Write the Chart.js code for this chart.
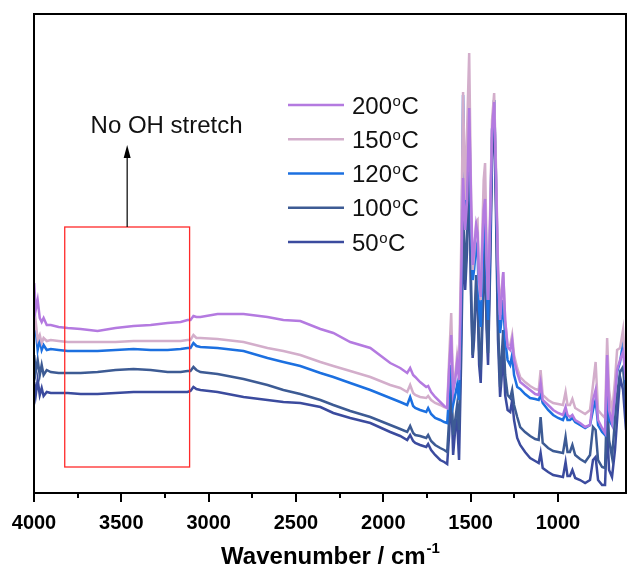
<!DOCTYPE html>
<html><head><meta charset="utf-8">
<script src="https://cdn.jsdelivr.net/npm/chart.js@4/dist/chart.umd.min.js"></script>
<style>html,body{margin:0;padding:0;background:#fff}</style>
</head><body>
<canvas id="c" width="627" height="573"></canvas>
<script>
// wavenumber (cm-1)
const wavenumbers = [3999,3990,3979,3967,3956,3945,3927,3904,3859,3807,3733,3636,3533,3430,3332,3235,3160,3121,3104,3087,3070,3047,2949,2800,2663,2572,2475,2360,2286,2189,2074,1960,1903,1863,1846,1829,1817,1789,1754,1743,1726,1703,1674,1651,1634,1623,1611,1600,1588,1577,1566,1554,1543,1531,1520,1508,1497,1488,1480,1468,1460,1451,1442,1434,1425,1417,1408,1400,1388,1377,1365,1354,1343,1331,1323,1313,1302,1288,1273,1262,1251,1233,1216,1188,1159,1130,1110,1099,1087,1056,1027,999,971,956,945,931,917,901,873,844,816,799,784,770,747,730,718,707,690,673,661,644,627,610];
// intensity (a.u.)
const s200 = [210,183,193,175,171,175,168,168,166,165,164,162,165,167,168,170,171,173,173,177,176,176,179,179,176,173,172,164,160,151,145,130,125,120,125,118,116,111,106,107,101,96,91,87,85,123,158,101,113,131,113,213,315,263,293,385,293,228,243,268,260,213,196,243,283,294,233,193,273,363,391,313,223,173,193,221,173,146,143,153,133,120,111,107,103,99,98,110,93,88,83,80,78,86,78,76,78,73,70,66,68,93,103,73,65,60,138,83,70,98,123,133,141,113];
const s150 = [163,171,153,158,150,155,152,153,152,151,151,151,151,152,152,152,152,153,153,158,155,155,154,151,145,142,138,131,127,122,116,108,105,101,108,100,98,96,95,97,93,90,88,86,85,133,180,103,118,138,123,243,401,293,363,440,293,223,238,271,273,208,193,253,313,330,243,193,283,373,400,323,228,178,203,221,173,148,148,158,138,125,116,111,107,104,103,123,98,93,90,89,88,101,88,88,94,85,82,79,83,108,131,83,78,75,155,103,80,113,143,145,163,113];
const s120 = [158,163,143,153,143,148,143,144,143,142,142,142,143,144,143,143,144,145,145,150,147,146,145,142,135,131,127,120,116,110,103,95,91,88,96,87,85,83,81,85,79,75,73,71,70,98,128,88,98,108,93,193,398,263,313,383,263,213,223,248,243,183,166,213,263,283,213,173,263,363,393,313,208,160,173,193,153,133,128,138,118,106,104,99,95,94,93,98,90,83,78,75,73,80,73,73,75,71,68,65,68,83,93,68,61,58,106,73,68,103,121,131,150,108];
const s100 = [138,121,133,118,128,118,123,121,120,120,120,121,123,124,123,121,121,122,122,126,123,121,119,114,108,103,99,93,88,82,76,68,64,61,67,60,58,57,55,58,52,48,45,43,41,73,113,58,73,88,63,163,283,213,263,343,203,138,163,218,203,143,123,173,233,253,173,140,243,353,393,293,173,106,133,163,118,98,95,103,88,76,66,61,57,54,53,76,50,45,42,41,40,56,41,41,48,38,34,31,38,66,63,33,26,25,95,53,36,73,98,121,126,88];
const s50 = [111,98,113,98,105,97,101,100,100,100,99,99,100,101,101,101,101,101,102,106,104,103,101,96,93,91,90,86,80,75,70,61,57,53,58,52,50,48,46,49,43,38,33,31,29,58,103,38,63,73,33,133,253,203,243,323,193,135,153,203,193,128,110,158,213,233,163,128,223,333,383,273,153,96,113,143,98,83,81,93,73,55,48,41,35,32,30,40,25,21,18,17,16,31,17,17,23,15,13,10,13,33,36,13,8,8,66,23,16,43,73,116,103,63];
const seriesLabels = ['200', '150', '120', '100', '50'];
const seriesColors = ['#b47ae0', '#d3aecb', '#1c70e0', '#3d5b94', '#3b4b9e'];
const xMin = 610, xMax = 4000, yMin = 0, yMax = 479;
const xMinorStep = 250, xMajorStep = 500;
const xTitle = 'Wavenumber / cm';
const xTitleSup = '-1';
const boxWn = [3824, 3109], boxI = [266, 26];
const arrowTipI = 348;
const noteText = 'No OH stretch', noteWn = 3676, noteI = 360;

const allSeries = [s200, s150, s120, s100, s50];
const FONT = '"Liberation Sans", Arial, Helvetica, sans-serif';

const deco = {
  id: 'deco',
  afterDraw(chart) {
    const {ctx, chartArea: a, scales: {x, y}} = chart;
    ctx.save();
    // red box
    const bx1 = x.getPixelForValue(boxWn[0]), bx2 = x.getPixelForValue(boxWn[1]);
    const by1 = y.getPixelForValue(boxI[0]), by2 = y.getPixelForValue(boxI[1]);
    ctx.strokeStyle = '#ff2a2a'; ctx.lineWidth = 1.3;
    ctx.strokeRect(bx1, by1, bx2 - bx1, by2 - by1);
    // arrow
    const ax = (bx1 + bx2) / 2, tip = y.getPixelForValue(arrowTipI);
    ctx.strokeStyle = '#000'; ctx.fillStyle = '#000'; ctx.lineWidth = 1.2;
    ctx.beginPath(); ctx.moveTo(ax, by1); ctx.lineTo(ax, tip + 8); ctx.stroke();
    ctx.beginPath(); ctx.moveTo(ax, tip); ctx.lineTo(ax - 3.5, tip + 13); ctx.lineTo(ax + 3.5, tip + 13); ctx.closePath(); ctx.fill();
    // note
    ctx.font = '24px ' + FONT; ctx.fillStyle = '#111'; ctx.textBaseline = 'alphabetic'; ctx.textAlign = 'left';
    ctx.fillText(noteText, x.getPixelForValue(noteWn), y.getPixelForValue(noteI));
    // frame
    ctx.strokeStyle = '#000'; ctx.lineWidth = 2;
    ctx.strokeRect(a.left, a.top, a.right - a.left, a.bottom - a.top);
    // ticks
    ctx.lineWidth = 2;
    x.ticks.forEach(t => {
      if (t.value % xMinorStep !== 0) return;
      const px = Math.round(x.getPixelForValue(t.value));
      const len = t.value % xMajorStep === 0 ? 9 : 5;
      ctx.beginPath(); ctx.moveTo(px, a.bottom); ctx.lineTo(px, a.bottom + len); ctx.stroke();
    });
    // legend
    chart.data.datasets.forEach((ds, i) => {
      const ly = 105 + 34.25 * i;
      ctx.strokeStyle = ds.borderColor; ctx.lineWidth = 2.5;
      ctx.beginPath(); ctx.moveTo(288, ly); ctx.lineTo(344, ly); ctx.stroke();
      ctx.fillStyle = '#111'; ctx.textBaseline = 'alphabetic';
      let tx = 352; const base = ly + 8.5;
      ctx.font = '24px ' + FONT; ctx.fillText(ds.label, tx, base); tx += ctx.measureText(ds.label).width + 0.5;
      ctx.font = '15px ' + FONT; ctx.fillText('o', tx, base - 8); tx += ctx.measureText('o').width + 0.5;
      ctx.font = '24px ' + FONT; ctx.fillText('C', tx, base);
    });
    // axis title
    ctx.fillStyle = '#000';
    ctx.font = 'bold 24px ' + FONT;
    const w1 = ctx.measureText(xTitle).width;
    ctx.font = 'bold 15px ' + FONT;
    const w2 = ctx.measureText(xTitleSup).width;
    const cx = (a.left + a.right) / 2;
    let sx = cx - (w1 + w2) / 2;
    ctx.font = 'bold 24px ' + FONT; ctx.fillText(xTitle, sx, 564);
    ctx.font = 'bold 15px ' + FONT; ctx.fillText(xTitleSup, sx + w1 + 1, 553);
    ctx.restore();
  }
};

new Chart(document.getElementById('c'), {
  type: 'line',
  data: {
    datasets: allSeries.map((s, i) => ({
      label: seriesLabels[i],
      data: wavenumbers.map((w, j) => ({x: w, y: s[j]})),
      borderColor: seriesColors[i],
      borderWidth: 2.5,
      pointRadius: 0,
      tension: 0,
      fill: false
    }))
  },
  options: {
    responsive: false,
    devicePixelRatio: 1,
    animation: false,
    layout: {padding: {left: 34, right: 1, top: 14, bottom: 38}},
    plugins: {legend: {display: false}, tooltip: {enabled: false}},
    scales: {
      x: {
        type: 'linear', reverse: true, min: xMin, max: xMax,
        grid: {display: false},
        border: {display: false},
        afterFit: s => { s.paddingLeft = 0; s.paddingRight = 0; s.paddingTop = 0; s.paddingBottom = 0; s.height = 42; },
        ticks: {
          stepSize: xMinorStep, autoSkip: false, maxRotation: 0, padding: 10,
          color: '#000', font: {family: FONT, size: 20, weight: 'bold'},
          callback: v => (v % xMajorStep === 0 ? String(v) : '')
        }
      },
      y: {display: false, min: yMin, max: yMax}
    }
  },
  plugins: [deco]
});
</script>
</body></html>
